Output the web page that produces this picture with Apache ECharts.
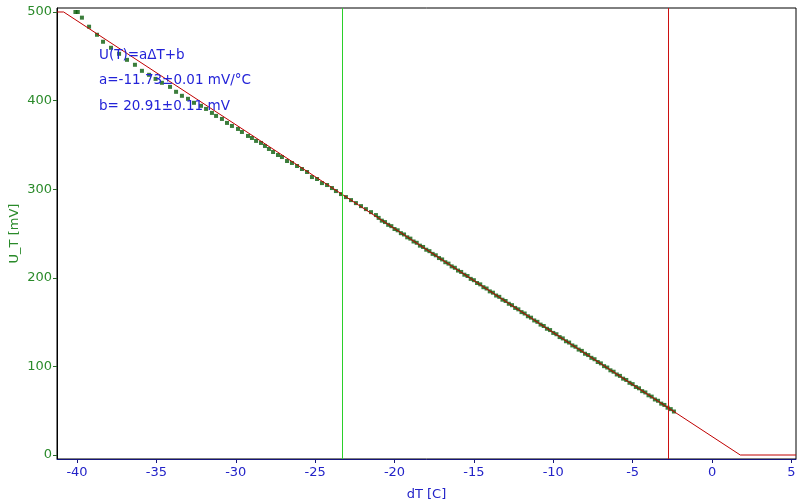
<!DOCTYPE html>
<html>
<head>
<meta charset="utf-8">
<script src="https://cdn.jsdelivr.net/npm/echarts@6/dist/echarts.min.js"></script>
<style>html,body{margin:0;padding:0;background:#fff}#c{width:800px;height:504px}</style>
</head>
<body>
<div id="c"></div>
<script>
// measured points: temperature difference dT [C]
const dT = [
  -40.10, -39.95, -39.69, -39.24, -38.74, -38.36, -37.86, -37.35, -36.85, -36.35,
  -35.91, -35.46, -35.05, -34.65, -34.14, -33.76, -33.39, -33.01, -32.63, -32.19,
  -31.87, -31.50, -31.24, -30.87, -30.55, -30.24, -29.86, -29.61, -29.23, -28.98,
  -28.72, -28.41, -28.16, -27.91, -27.65, -27.34, -27.09, -26.77, -26.46, -26.14,
  -25.83, -25.51, -25.20, -24.88, -24.57, -24.25, -23.94, -23.69, -23.37, -23.06,
  -22.74, -22.43, -22.11, -21.80, -21.48, -21.17,
  -21.0, -20.8, -20.6, -20.4, -20.2, -20.0, -19.8, -19.6, -19.4, -19.2,
  -19.0, -18.8, -18.6, -18.4, -18.2, -18.0, -17.8, -17.6, -17.4, -17.2,
  -17.0, -16.8, -16.6, -16.4, -16.2, -16.0, -15.8, -15.6, -15.4, -15.2,
  -15.0, -14.8, -14.6, -14.4, -14.2, -14.0, -13.8, -13.6, -13.4, -13.2,
  -13.0, -12.8, -12.6, -12.4, -12.2, -12.0, -11.8, -11.6, -11.4, -11.2,
  -11.0, -10.8, -10.6, -10.4, -10.2, -10.0, -9.8, -9.6, -9.4, -9.2,
  -9.0, -8.8, -8.6, -8.4, -8.2, -8.0, -7.8, -7.6, -7.4, -7.2,
  -7.0, -6.8, -6.6, -6.4, -6.2, -6.0, -5.8, -5.6, -5.4, -5.2,
  -5.0, -4.8, -4.6, -4.4, -4.2, -4.0, -3.8, -3.6, -3.4, -3.2,
  -3.0, -2.8, -2.6, -2.4
];
// measured thermo voltage U_T [mV]
const U = [
  500.0, 500.0, 493.6, 483.4, 474.3, 466.4, 459.6, 452.8, 446.0, 440.4,
  433.6, 429.1, 424.5, 420.1, 415.5, 409.9, 405.4, 402.0, 397.5, 394.1,
  390.6, 386.1, 382.7, 379.3, 374.8, 371.4, 368.0, 364.6, 360.1, 357.8,
  354.5, 352.2, 348.8, 345.4, 342.0, 338.6, 336.3, 331.8, 329.6, 326.2,
  322.8, 319.4, 313.7, 311.5, 306.9, 304.7, 301.3, 297.9, 294.5, 291.1,
  287.7, 284.3, 280.9, 277.5, 274.1, 270.8,
  267.6, 264.5, 262.9, 259.8, 258.3, 255.1, 253.6, 250.4, 248.9, 245.7,
  244.2, 241.0, 239.5, 236.3, 234.8, 231.7, 230.1, 227.0, 225.4, 222.3,
  220.7, 217.6, 216.0, 212.9, 211.3, 208.2, 206.6, 203.5, 202.0, 198.8,
  197.3, 194.1, 192.6, 189.4, 187.9, 184.7, 183.2, 180.0, 178.5, 175.3,
  173.8, 170.7, 169.1, 166.0, 164.4, 161.3, 159.7, 156.6, 155.0, 151.9,
  150.3, 147.2, 145.6, 142.5, 141.0, 137.8, 136.3, 133.1, 131.6, 128.4,
  126.9, 123.7, 122.2, 119.0, 117.5, 114.3, 112.8, 109.7, 108.1, 105.0,
  103.4, 100.3, 98.7, 95.6, 94.0, 90.9, 89.3, 86.2, 84.7, 81.5,
  80.0, 76.8, 75.3, 72.1, 70.6, 67.4, 65.9, 62.7, 61.2, 58.0,
  56.5, 53.4, 51.8, 49.1
];
// fit U = a*dT + b, clipped to the 0..500 mV range of the display
const fitX = [-41.26, -40.84, 1.78, 5.29];
const fitY = [500, 500, 0, 0];
// cursor lines
const cursorGreen = -23.31;
const cursorRed = -2.77;
// tick labels
const xTicks = [-40, -35, -30, -25, -20, -15, -10, -5, 0, 5];
const yTicks = [0, 100, 200, 300, 400, 500];
const noteLines = ['U(T)=a\u0394T+b', 'a=-11.73\u00b10.01 mV/\u00b0C', 'b= 20.91\u00b10.11 mV'];

const FONT = 'DejaVu Sans';
const chart = echarts.init(document.getElementById('c'), null, {renderer: 'canvas'});
const pts = dT.map((x, i) => [x, U[i]]);
const fit = fitX.map((x, i) => [x, fitY[i]]);

chart.setOption({
  animation: false,
  backgroundColor: '#fff',
  grid: {left: 57, right: 4, top: 8, bottom: 45, containLabel: false, outerBoundsMode: 'none',
         show: true, borderColor: '#000', borderWidth: 1, backgroundColor: 'transparent'},
  xAxis: {
    type: 'value', min: -41.26, max: 5.29,
    name: 'dT [C]', nameLocation: 'middle', nameGap: 29, nameMoveOverlap: false,
    nameTextStyle: {color: '#2323c8', fontFamily: FONT, fontSize: 13},
    axisLine: {show: true, onZero: false, lineStyle: {color: '#14147a', width: 1}},
    axisTick: {show: true, length: 4, customValues: xTicks, lineStyle: {color: '#14147a'}},
    axisLabel: {customValues: xTicks, color: '#2323c8', fontFamily: FONT, fontSize: 13, margin: 7},
    splitLine: {show: false}
  },
  yAxis: {
    type: 'value', min: -4.5, max: 504.5,
    name: 'U_T [mV]', nameLocation: 'middle', nameGap: 36, nameMoveOverlap: false,
    nameTextStyle: {color: '#2a8a2a', fontFamily: FONT, fontSize: 13},
    axisLine: {show: true, onZero: false, lineStyle: {color: '#000', width: 1}},
    axisTick: {show: true, length: 4, customValues: yTicks, lineStyle: {color: '#2a6a2a'}},
    axisLabel: {customValues: yTicks, color: '#2a8a2a', fontFamily: FONT, fontSize: 13, margin: 5},
    splitLine: {show: false}
  },
  graphic: noteLines.map((t, i) => ({
    type: 'text', left: 99, top: 48 + i * 25.5, z: 100,
    style: {text: t, fill: '#2323d8', font: '13.5px "DejaVu Sans"'}
  })),
  series: [
    {
      type: 'scatter', data: pts, symbol: 'rect', symbolSize: 4,
      itemStyle: {color: '#0a5c0a'}, z: 2, silent: true
    },
    {
      type: 'line', data: fit, showSymbol: false, symbol: 'none',
      lineStyle: {color: '#c00000', width: 1}, z: 3, silent: true
    },
    {
      type: 'line', data: [], silent: true, z: 4,
      markLine: {
        symbol: 'none', silent: true, label: {show: false},
        lineStyle: {color: '#2ad02a', width: 1, type: 'solid'},
        data: [{xAxis: cursorGreen}]
      }
    },
    {
      type: 'line', data: [], silent: true, z: 4,
      markLine: {
        symbol: 'none', silent: true, label: {show: false},
        lineStyle: {color: '#cc1010', width: 1, type: 'solid'},
        data: [{xAxis: cursorRed}]
      }
    }
  ]
});
</script>
</body>
</html>
